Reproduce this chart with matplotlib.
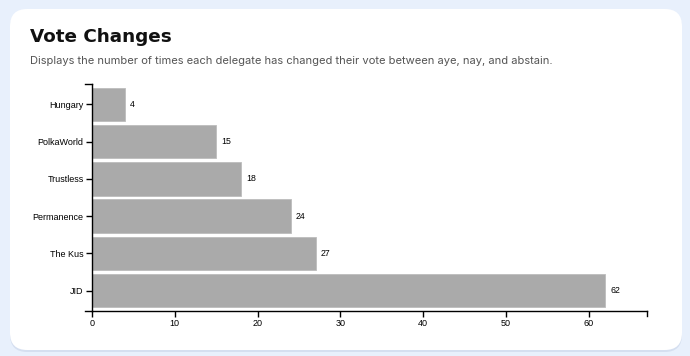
import matplotlib.pyplot as plt
from matplotlib.patches import FancyBboxPatch

delegates = ["Hungary", "PolkaWorld", "Trustless", "Permanence", "The Kus", "JID"]
changes = [4, 15, 18, 24, 27, 62]
x_ticks = [0, 10, 20, 30, 40, 50, 60]

W, H = 690, 356
fig = plt.figure(figsize=(W / 100, H / 100), dpi=100)
fig.patch.set_facecolor("#e8f0fc")

# card with a soft shadow
shadow = FancyBboxPatch((10 / W, 4 / H), 672 / W, 341 / H,
                        boxstyle="round,pad=0,rounding_size=0.025",
                        transform=fig.transFigure, fc="#d5dff0", ec="none",
                        mutation_aspect=W / H, zorder=-2)
card = FancyBboxPatch((10 / W, 6 / H), 672 / W, 341 / H,
                      boxstyle="round,pad=0,rounding_size=0.025",
                      transform=fig.transFigure, fc="white", ec="none",
                      mutation_aspect=W / H, zorder=-1)
fig.patches.extend([shadow, card])

fig.text(30 / W, 1 - 37 / H, "Vote Changes", fontsize=13.2, fontweight="heavy",
         family="DejaVu Sans", color="#111111", va="center", ha="left")
fig.text(30 / W, 1 - 61 / H,
         "Displays the number of times each delegate has changed their vote between aye, nay, and abstain.",
         fontsize=8.05, family="Inter", color="#555555", va="center", ha="left")

ax = fig.add_axes([92 / W, 1 - 311 / H, (646.7 - 92) / W, (311 - 84) / H])
ax.set_facecolor("none")

pos = list(range(len(delegates)))
ax.barh(pos, changes, height=0.9, color="#aaaaaa", edgecolor="#bdbdbd", linewidth=0.6)
for p, v in zip(pos, changes):
    ax.annotate(str(v), (v, p), xytext=(3.5, 0), textcoords="offset points",
                va="center", ha="left", fontsize=6.3, family="Liberation Sans", color="#000000")

ax.set_xlim(0, 67)
ax.set_ylim(5.55, -0.55)
ax.set_yticks(pos)
ax.set_yticklabels(delegates)
ax.set_xticks(x_ticks)

for s in ["top", "right"]:
    ax.spines[s].set_visible(False)
for s in ["left", "bottom"]:
    ax.spines[s].set_linewidth(1.0)
    ax.spines[s].set_color("#000000")

ax.tick_params(axis="both", labelsize=6.5, length=4, width=1.0, pad=2, colors="#000000")
for lab in ax.get_xticklabels() + ax.get_yticklabels():
    lab.set_family("Liberation Sans")

# outer ticks at the ends of the domain paths
ax.plot([67, 67], [0, -0.022], transform=ax.get_xaxis_transform(), color="#000000",
        lw=1.0, clip_on=False)
ax.plot([0, -0.012], [1, 1], transform=ax.transAxes, color="#000000",
        lw=1.0, clip_on=False)
ax.plot([0, -0.012], [0, 0], transform=ax.transAxes, color="#000000",
        lw=1.0, clip_on=False)

fig.savefig("out.png", dpi=100, facecolor=fig.get_facecolor())
